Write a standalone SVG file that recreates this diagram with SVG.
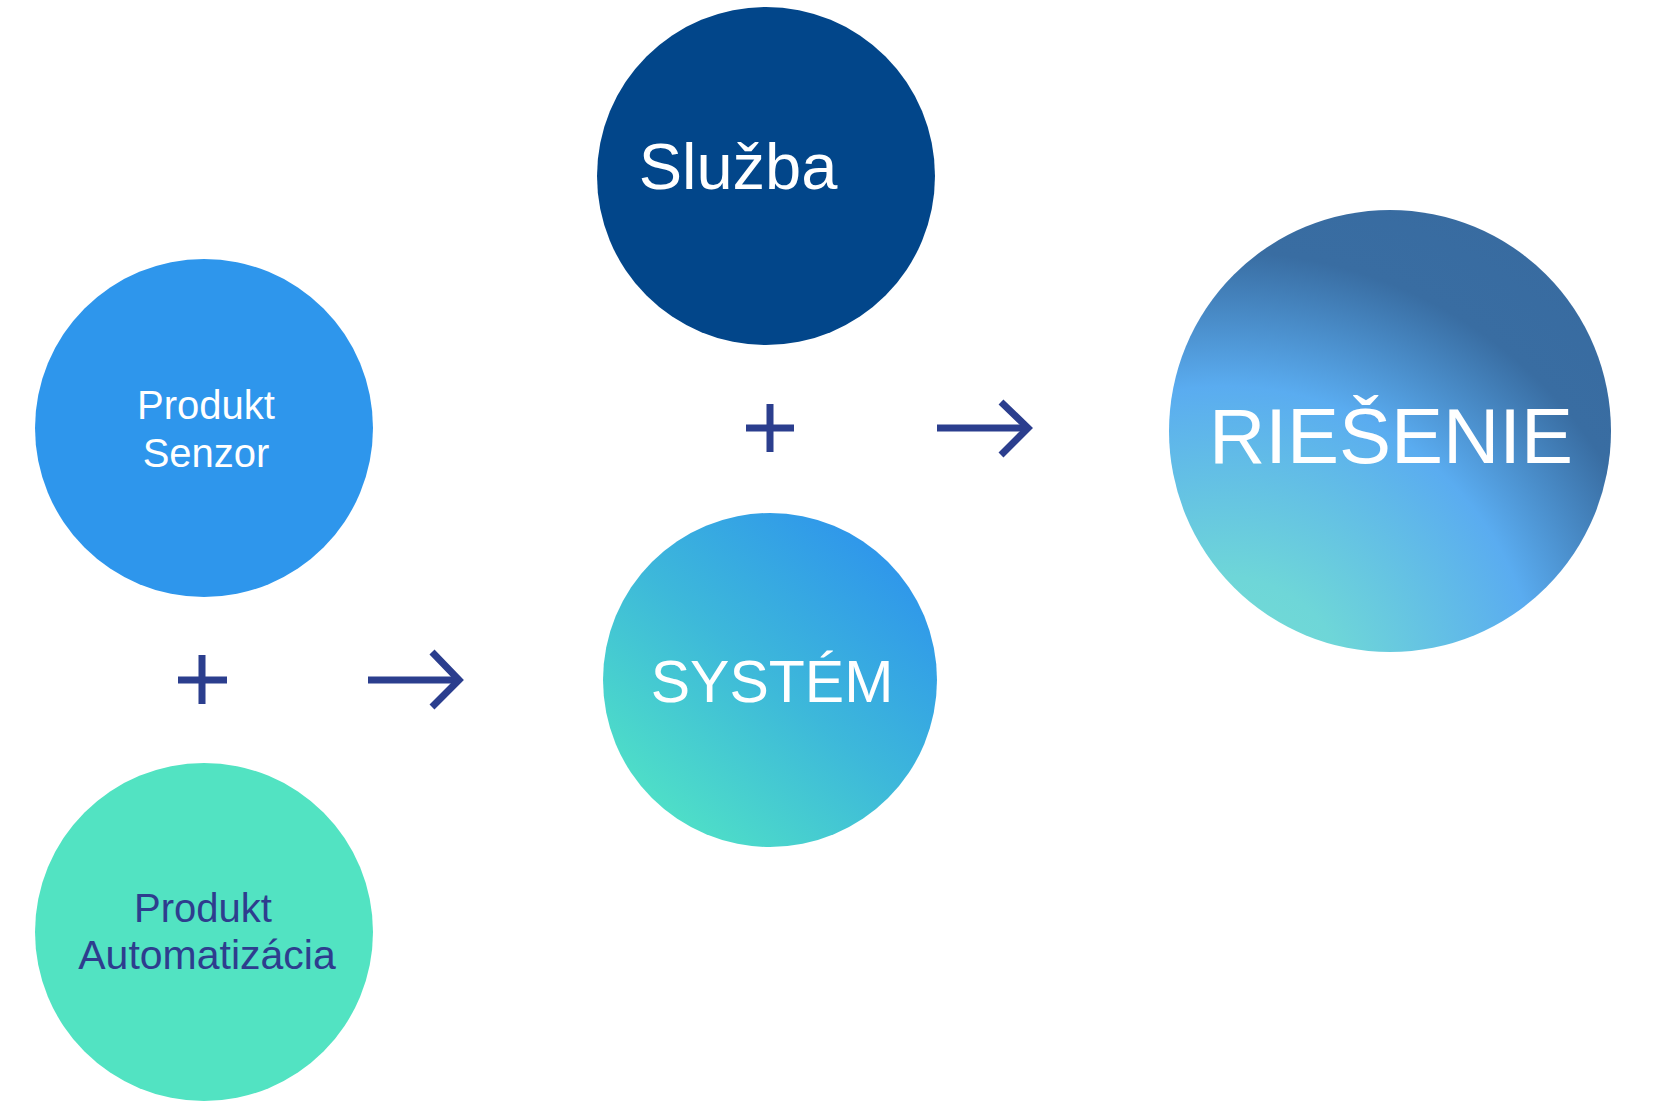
<svg xmlns="http://www.w3.org/2000/svg" width="1666" height="1110" viewBox="0 0 1666 1110">
  <defs>
    <linearGradient id="gSys" gradientUnits="userSpaceOnUse" x1="650" y1="820" x2="890" y2="540">
      <stop offset="0" stop-color="#50E2C6"/>
      <stop offset="0.5" stop-color="#3DB8DA"/>
      <stop offset="1" stop-color="#2E94EC"/>
    </linearGradient>
    <radialGradient id="gSol" gradientUnits="userSpaceOnUse" cx="1225" cy="700" r="560">
      <stop offset="0" stop-color="#74DED2"/>
      <stop offset="0.22" stop-color="#6ED6D8"/>
      <stop offset="0.56" stop-color="#5AACF0"/>
      <stop offset="0.8" stop-color="#396DA2"/>
      <stop offset="1" stop-color="#386BA0"/>
    </radialGradient>
  </defs>
  <style>
    .lbl { font-family: "Liberation Sans", Arial, sans-serif; text-anchor: middle; }
    .w { fill: #FFFFFF; }
    .d { fill: #2E3D8E; }
    .sym { stroke: #2B3E8E; stroke-width: 7; fill: none; stroke-linecap: butt; stroke-linejoin: miter; }
  </style>
  <rect x="0" y="0" width="1666" height="1110" fill="#FFFFFF"/>

  <g id="node-senzor">
    <circle cx="204" cy="428" r="169" fill="#2E96EC"/>
    <text class="lbl w" x="206" y="419" font-size="40">Produkt</text>
    <text class="lbl w" x="206" y="467" font-size="40">Senzor</text>
  </g>

  <g id="node-automatizacia">
    <circle cx="204" cy="932" r="169" fill="#52E3C2"/>
    <text class="lbl d" x="203" y="922" font-size="40">Produkt</text>
    <text class="lbl d" x="207" y="969" font-size="41">Automatizácia</text>
  </g>

  <g id="node-sluzba">
    <circle cx="766" cy="176" r="169" fill="#02468A"/>
    <text class="lbl w" x="738" y="189" font-size="65">Služba</text>
  </g>

  <g id="node-system">
    <circle cx="770" cy="680" r="167" fill="url(#gSys)"/>
    <text class="lbl w" x="772" y="702" font-size="59">SYSTÉM</text>
  </g>

  <g id="node-riesenie">
    <circle cx="1390" cy="431" r="221" fill="url(#gSol)"/>
    <text class="lbl w" x="1391" y="463" font-size="78">RIEŠENIE</text>
  </g>

  <g id="connectors">
    <path class="sym" d="M178 680 H227 M202 655 V704"/>
    <path class="sym" d="M368 680 H456"/>
    <path class="sym" d="M432 652 L459 680 L432 707"/>
    <path class="sym" d="M746 428 H794 M770 404 V452"/>
    <path class="sym" d="M937 428 H1025"/>
    <path class="sym" d="M1001 402 L1028 428 L1001 455"/>
  </g>
</svg>
